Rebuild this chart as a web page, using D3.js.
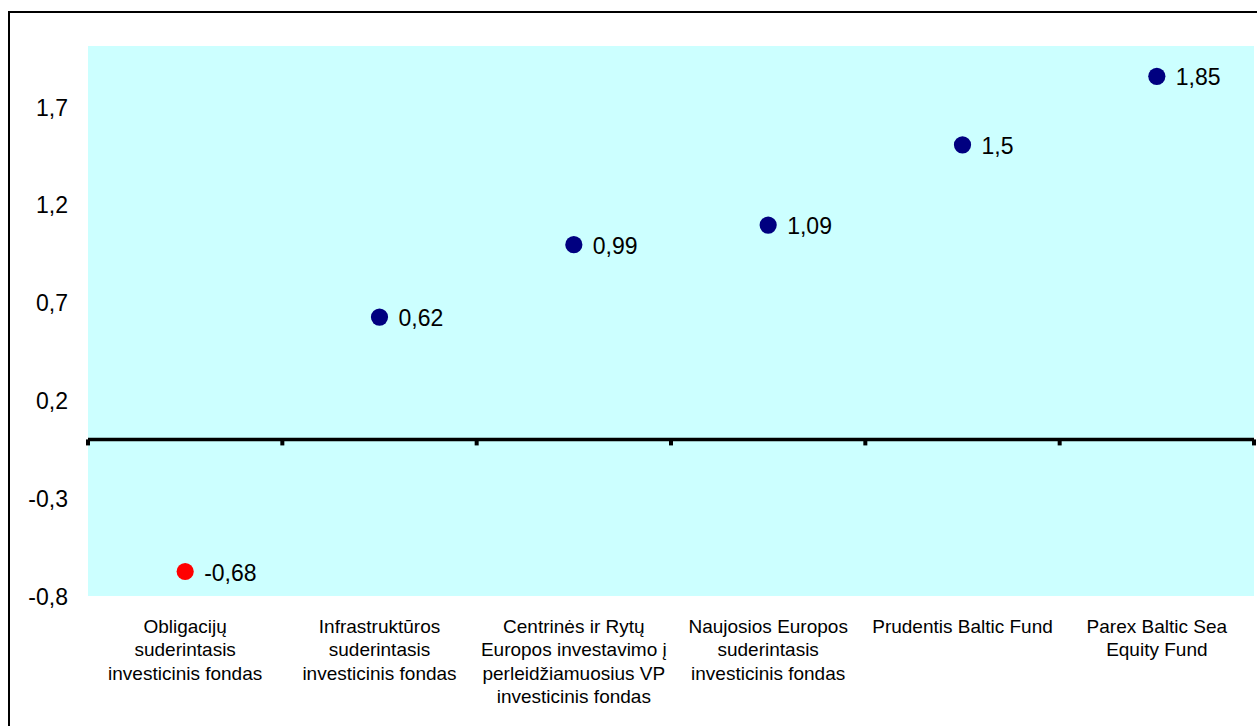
<!DOCTYPE html>
<html>
<head>
<meta charset="utf-8">
<script src="https://cdn.jsdelivr.net/npm/d3@7"></script>
<style>
  html, body { margin: 0; padding: 0; background: #ffffff; }
  svg { display: block; }
  text { font-family: Arial, "Liberation Sans", sans-serif; fill: #000; }
</style>
</head>
<body>
<script>
const categories = [
  "Obligacijų\nsuderintasis\ninvesticinis fondas",
  "Infrastruktūros\nsuderintasis\ninvesticinis fondas",
  "Centrinės ir Rytų\nEuropos investavimo į\nperleidžiamuosius VP\ninvesticinis fondas",
  "Naujosios Europos\nsuderintasis\ninvesticinis fondas",
  "Prudentis Baltic Fund",
  "Parex Baltic Sea\nEquity Fund"
];
const values = [-0.68, 0.62, 0.99, 1.09, 1.5, 1.85];
const pointColors = ["#FF0000", "#000080", "#000080", "#000080", "#000080", "#000080"];
const yTicks = [-0.8, -0.3, 0.2, 0.7, 1.2, 1.7];
const yDomain = [-0.8, 2.01];

const W = 1257, H = 726;
const plot = { left: 88, right: 1254, top: 46, bottom: 596 };

const locale = d3.formatLocale({ decimal: ",", thousands: " ", grouping: [3], currency: ["", ""], minus: "-" });
const fmtTick = locale.format(".1f");
const fmtVal = v => locale.format("")(v);

const svg = d3.select("body").append("svg").attr("width", W).attr("height", H);

// outer border
svg.append("rect").attr("x", 9).attr("y", 12).attr("width", W + 20).attr("height", H + 20)
  .attr("fill", "none").attr("stroke", "#000").attr("stroke-width", 2);

const x = d3.scaleBand().domain(categories).range([plot.left, plot.right]).padding(0);
const y = d3.scaleLinear().domain(yDomain).range([plot.bottom, plot.top]);

// plot background
svg.append("rect").attr("x", plot.left).attr("y", plot.top)
  .attr("width", plot.right - plot.left).attr("height", plot.bottom - plot.top)
  .attr("fill", "#CCFFFF");

// y axis labels
const yAxis = d3.axisLeft(y).tickValues(yTicks).tickSize(0).tickPadding(0).tickFormat(fmtTick);
const gy = svg.append("g").attr("transform", `translate(68,1)`).call(yAxis);
gy.select(".domain").remove();
gy.selectAll("text").attr("font-size", 23).attr("font-family", "Arial, 'Liberation Sans', sans-serif").attr("fill", "#000");

// zero line with category ticks
const y0 = y(0);
svg.append("line").attr("x1", plot.left).attr("x2", plot.right)
  .attr("y1", y0).attr("y2", y0).attr("stroke", "#000").attr("stroke-width", 3.5);
const boundaries = categories.map(c => x(c)).concat([x(categories[categories.length - 1]) + x.bandwidth()]);
svg.selectAll("rect.tick").data(boundaries).join("rect").attr("class", "tick")
  .attr("x", d => d - 2).attr("y", y0).attr("width", 4).attr("height", 6).attr("fill", "#000");

// category labels
const catG = svg.append("g");
categories.forEach(c => {
  const lines = c.split("\n");
  const t = catG.append("text").attr("text-anchor", "middle").attr("font-size", 19)
    .attr("x", x(c) + x.bandwidth() / 2).attr("y", 633);
  lines.forEach((ln, i) => {
    t.append("tspan").attr("x", x(c) + x.bandwidth() / 2).attr("dy", i === 0 ? 0 : 23.3).text(ln);
  });
});

// points
const data = categories.map((c, i) => ({ c, v: values[i], col: pointColors[i] }));
svg.selectAll("circle.pt").data(data).join("circle").attr("class", "pt")
  .attr("cx", d => x(d.c) + x.bandwidth() / 2).attr("cy", d => y(d.v) - 1)
  .attr("r", 8.6).attr("fill", d => d.col);

// value labels
svg.selectAll("text.val").data(data).join("text").attr("class", "val")
  .attr("x", d => x(d.c) + x.bandwidth() / 2 + 19).attr("y", d => y(d.v))
  .attr("dy", "0.35em").attr("font-size", 23).text(d => fmtVal(d.v));
</script>
</body>
</html>
